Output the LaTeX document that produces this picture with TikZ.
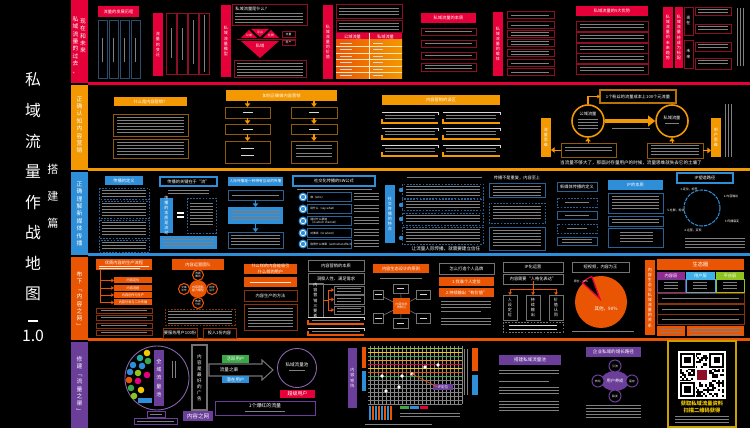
\documentclass[tikz,border=0pt]{standalone}
\usepackage{fontspec}
\setmainfont{Noto Sans CJK SC}
\usepackage{xcolor}
\usepackage{tikz}
\usetikzlibrary{positioning, calc, arrows.meta, shapes.geometric}

\XeTeXlinebreaklocale "zh"
\XeTeXlinebreakskip=0pt plus 1pt

\definecolor{pvred}{HTML}{E5003A}
\definecolor{pvdred}{HTML}{8C0F26}
\definecolor{pvorange}{HTML}{F39800}
\definecolor{pvdorange}{HTML}{8F5B0A}
\definecolor{pvblue}{HTML}{2E8FD8}
\definecolor{pvdblue}{HTML}{2A6296}
\definecolor{pvflame}{HTML}{EA5504}
\definecolor{pvdflame}{HTML}{8A3308}
\definecolor{pvpurple}{HTML}{6B3E99}
\definecolor{pvgreen}{HTML}{3AA845}
\definecolor{pvsky}{HTML}{3FB0E6}
\definecolor{pvgold}{HTML}{C9A000}
\definecolor{pvyellow}{HTML}{F2C800}
\definecolor{pvnavy}{HTML}{2C4C6E}
\definecolor{pvteal}{HTML}{21B1A4}
\definecolor{pvmag}{HTML}{E4007F}
\definecolor{pvlime}{HTML}{8FC31F}

\tikzset{
  txt/.style={white!50!black, line width=0.35pt},
  wtxt/.style={white!85!black, line width=0.4pt},
  hdr/.style={text=white, inner sep=0, align=center, font=\fontsize{2.4}{3}\selectfont},
  vlab/.style={text=white, align=center, inner sep=0, text width=3.4pt, font=\fontsize{3.3}{4.2}\selectfont},
  vsmall/.style={text=white, align=center, inner sep=0, text width=2.4pt, font=\fontsize{2.3}{2.9}\selectfont},
  rbox/.style={draw=pvdred, line width=0.5pt},
  obox/.style={draw=pvdorange, line width=0.5pt},
  bbox/.style={draw=pvdblue, line width=0.5pt},
  bdash/.style={draw=pvdblue, line width=0.5pt, dash pattern=on 1pt off 0.8pt},
  fbox/.style={draw=pvdflame, line width=0.5pt},
  gbox/.style={draw=white!45!black, line width=0.5pt},
  pbox/.style={draw=pvpurple, line width=0.5pt},
  bx/.style 2 args={minimum width=#1*0.02cm, minimum height=#2*0.02cm, inner sep=0, outer sep=0},
  oarr/.style={pvorange, line width=0.9pt, -{Triangle[length=2pt, width=3pt]}},
  barr/.style={pvblue, line width=0.9pt, -{Triangle[length=2pt, width=3pt]}},
  farr/.style={pvflame, line width=0.5pt, -{Triangle[length=1.5pt, width=2pt]}},
  skill/.style={circle, draw=pvflame, line width=0.6pt, fill=black, minimum size=11*0.02cm, inner sep=0, text=white, font=\fontsize{1.5}{1.8}\selectfont, align=center},
  step4/.style={circle, draw=pvpurple, line width=0.6pt, fill=black, minimum size=12*0.02cm, inner sep=0, text=white, font=\fontsize{1.6}{2}\selectfont},
}

% rows of small print
\newcommand{\txtlines}[4]{\foreach \k in {1,...,#4}{\draw[txt] (#1,{#2+3*(\k-1)}) -- ++(#3,0);}}
% open box: light top edge, coloured foot
\newcommand{\brk}[5]{\draw[white!85!black, line width=0.5pt] (#1,#2) -- (#3,#2) -- (#3,#2+3);
  \draw[#5, line width=0.9pt] (#1,#4-4) -- (#1,#4) -- (#3,#4);}

\begin{document}
\begin{tikzpicture}[x=0.02cm, y=-0.02cm]
  \useasboundingbox (0,0) rectangle (750,428);
  \fill[black] (0,0) rectangle (750,428);

  % Title
  \node[text=white, align=center, inner sep=0, text width=9.5pt,
        font=\fontsize{9}{17.4}\selectfont] (title) at (33,187)
        {私\\域\\流\\量\\作\\战\\地\\图};
  \draw[white, line width=0.6pt] (28,321) -- (38,321);
  \node[text=white, inner sep=0, font=\fontsize{9}{10}\selectfont] (version) at (33,336) {1.0};
  \node[text=white, align=center, inner sep=0, text width=6.8pt,
        font=\fontsize{6.3}{15.4}\selectfont] (part) at (53,196) {搭\\建\\篇};

  % ===== Row 1: past, present and future =====
  \fill[pvred] (71,0) rectangle (88,83);
  \fill[pvred] (88,82) rectangle (750,85);
  \node[vlab] (lab1a) at (75.5,45) {私\\域\\流\\量\\的\\过\\去\\、};
  \node[vlab] (lab1b) at (83,36) {现\\在\\和\\未\\来};

  % history
  \fill[pvred] (98,6) rectangle node[hdr] (hist) {流量的发展历程} (139,17);
  \foreach \x in {98,109,120,131} {
    \draw[pvnavy, line width=0.5pt] (\x,20) rectangle (\x+9,78);
    \draw[txt] (\x+4.5,38) -- (\x+4.5,62);
  }
  \fill[pvred] (153,13) rectangle node[vsmall] (trend) {流量的变迁} (163,76);
  \foreach \x/\a/\b in {166/28/58, 177/28/60, 188/20/64, 199/15/72} {
    \draw[rbox] (\x,13) rectangle (\x+10,74);
    \draw[txt] (\x+5,\a) -- (\x+5,\b);
  }

  % what is it
  \fill[pvred] (221,5) rectangle node[vsmall] (model) {私域流量模型} (231,77);
  \draw[rbox] (232,4) rectangle (307,25);
  \node[hdr, anchor=west] (whatis) at (235,8.5) {私域流量是什么？};
  \txtlines{235}{13}{68}{4}
  \fill[pvred] (241,38) -- (249,30) -- (257,38) -- cycle;
  \fill[pvred] (251,29) -- (269,29) -- (260,37) -- cycle;
  \fill[pvred] (263,38) -- (271,30) -- (279,38) -- cycle;
  \draw[pvdred, line width=0.9pt] (237,39.5) -- (296,39.5);
  \fill[pvred] (241,41) -- (279,41) -- (260,58) -- cycle;
  \node[hdr, font=\fontsize{1.6}{2}\selectfont] (gemL) at (249,35.5) {公域};
  \node[hdr, font=\fontsize{1.6}{2}\selectfont] (gemM) at (260,32) {平台};
  \node[hdr, font=\fontsize{1.6}{2}\selectfont] (gemR) at (271,35.5) {社群};
  \node[hdr] (gemB) at (260,46) {私域};
  \draw[rbox] (282,31) rectangle node[hdr, font=\fontsize{1.6}{2}\selectfont] (side1) {流量} (295,37);
  \draw[rbox] (282,40) rectangle node[hdr, font=\fontsize{1.6}{2}\selectfont] (side2) {用户} (295,45);
  \draw[rbox] (234,60) rectangle (306,77);
  \txtlines{237}{63}{66}{5}

  % value and table
  \fill[pvred] (323,5) rectangle node[vsmall] (worth) {私域流量的价值} (333,79);
  \draw[rbox] (336,4) rectangle (402,18);
  \txtlines{339}{8}{60}{3}
  \draw[rbox] (336,20) rectangle (402,32);
  \txtlines{339}{23}{60}{3}
  \fill[pvred] (336,33) rectangle (402,40);
  \node[hdr] (th1) at (352.5,36.5) {公域流量};
  \node[hdr] (th2) at (385.5,36.5) {私域流量};
  \foreach \r in {0,...,5} {
    \shade[left color=pvflame, right color=pvorange] (336,{40+6.5*\r}) rectangle (402,{46.5+6.5*\r});
    \draw[wtxt] (340,{43.25+6.5*\r}) -- ++(12,0);
    \draw[wtxt] (373,{43.25+6.5*\r}) -- ++(10,0);
  }
  \foreach \r in {1,...,5}
    \draw[white!75!pvorange, line width=0.3pt] (336,{40+6.5*\r}) -- (402,{40+6.5*\r});
  \draw[white!75!pvorange, line width=0.3pt] (369,33) -- (369,79);

  % essence
  \fill[pvred] (421,13) rectangle node[hdr] (essence) {私域流量的本质} (476,23);
  \foreach \y in {28,40,52} {
    \draw[rbox] (421,\y) rectangle (476,\y+7);
    \draw[txt] (425,\y+3.5) -- (472,\y+3.5);
  }
  \draw[rbox] (421,63) rectangle (476,71);
  \txtlines{425}{65.5}{47}{2}

  % carriers
  \fill[pvred] (493,12) rectangle node[vsmall] (carrier) {私域流量的载体} (503,76);
  \foreach \y/\n in {11/1,21/1,30/2,39/2,49/2,59/1,68/1} {
    \draw[rbox] (507,\y) rectangle (554,\y+7.5);
    \txtlines{511}{\y+2.5+(2-\n)*1.5}{38}{\n}
  }

  % advantages
  \fill[pvred] (576,6) rectangle node[hdr] (adv) {私域流量的5大优势} (648,16);
  \foreach \y in {21,32,43,53,64} {
    \draw[rbox] (576,\y) rectangle (648,\y+10);
    \txtlines{580}{\y+3.5}{64}{2}
  }

  % future
  \fill[pvred] (663,7) rectangle node[vsmall] (fut1) {私域流量的未来趋势} (673,68);
  \fill[pvred] (675,7) rectangle node[vsmall] (fut2) {私域流量将成为标配} (683,68);
  \draw[rbox] (684,7) rectangle node[vsmall] (now) {现在} (693,35);
  \draw[rbox] (684,40) rectangle node[vsmall] (later) {未来} (693,68);
  \foreach \y/\h in {7/8,24/9,42/9,58/11} {
    \draw[rbox] (695,\y) rectangle (731,\y+\h);
    \txtlines{698}{\y+2.5}{30}{2}
  }
  \foreach \x in {737,740,743} \draw[txt] (\x,8) -- (\x,66);

  % ===== Row 2: content marketing =====
  \fill[pvorange] (71,85) rectangle (88,170);
  \fill[pvorange] (88,168) rectangle (750,171);
  \node[vlab] (lab2) at (79.5,125) {正\\确\\认\\知\\内\\容\\营\\销};

  \fill[pvorange] (114,97) rectangle node[hdr] (cm) {什么是内容营销？} (187,106);
  \draw[obox] (113,114) rectangle (188,136);
  \txtlines{117}{117}{67}{6}
  \draw[obox] (113,139) rectangle (188,158);
  \txtlines{117}{142}{67}{5}

  % how to do it
  \node[bx={111}{11}, fill=pvorange, hdr] (how) at (281.5,95.5) {如何正确做内容营销};
  \node[bx={45}{11}, obox] (f11) at (247.5,112.5) {};
  \node[bx={46}{11}, obox] (f12) at (314,112.5) {};
  \node[bx={45}{10}, obox] (f21) at (247.5,129) {};
  \node[bx={46}{10}, obox] (f22) at (314,129) {};
  \node[bx={45}{22}, obox] (f31) at (247.5,152) {};
  \node[bx={46}{22}, obox] (f32) at (314,152) {};
  \foreach \a/\b in {how/f11, how/f12, f11/f21, f12/f22, f21/f31, f22/f32}
    \draw[oarr] (\a.south -| \b) -- (\b);
  \foreach \n in {f11,f12,f21,f22} \draw[wtxt] ($(\n)-(5,0)$) -- ($(\n)+(5,0)$);
  \draw[wtxt] (241,148) -- (254,148);
  \draw[wtxt] (241,155) -- (254,155);
  \txtlines{296}{145}{36}{2}
  \txtlines{296}{153}{36}{2}

  % pitfalls
  \fill[pvorange] (382,95) rectangle node[hdr] (myth) {内容营销的误区} (500,105);
  \foreach \y in {112,128,145} {
    \brk{382}{\y}{438}{\y+11}{pvorange}
    \txtlines{385}{\y+3.5}{50}{2}
    \brk{443}{\y}{500}{\y+11}{pvorange}
    \txtlines{446}{\y+3.5}{50}{2}
  }

  % from traffic to users
  \node[circle, draw=pvorange, line width=0.9pt, minimum size=32*0.02cm, inner sep=0] (pool) at (588,121) {};
  \node[hdr] (poolt) at (588,114) {公域流量};
  \txtlines{578}{119}{20}{4}
  \node[circle, draw=pvorange, line width=0.9pt, minimum size=32*0.02cm, inner sep=0] (priv) at (672,121) {};
  \node[hdr] (privt) at (672,118) {私域流量};
  \draw[txt] (665,123) -- (679,123);
  \draw[pvorange, line width=2pt, -{Triangle[length=4pt, width=6pt]}] (pool) -- (priv);
  \draw[txt] (612,128) -- (650,128);
  \node[bx={76}{13}, draw=pvdorange!60!pvorange, line width=0.6pt, hdr] (cost) at (638,96.5) {1个粉丝的流量成本上100个元流量};
  \draw[pvorange, line width=0.6pt, -{Triangle[length=1.5pt, width=2pt]}] (pool.north) |- (cost.west);
  \node[bx={10}{39}, fill=pvorange, vsmall] (tflow) at (546,137.5) {流量思维};
  \node[bx={10}{39}, fill=pvorange, vsmall] (tuser) at (716,137.5) {用户思维};
  \node[bx={55}{14}, obox] (low) at (588.5,150) {};
  \txtlines{565}{147}{47}{2}
  \node[bx={56}{15}, obox] (high) at (675,150.5) {};
  \txtlines{651}{145.5}{48}{4}
  \draw[oarr, line width=0.5pt] (low.west) -- (low.west -| tflow.east);
  \draw[oarr, line width=0.5pt] (high.east) -- (high.east -| tuser.west);
  \draw[oarr, line width=0.5pt] (low.north -| pool) -- (pool);
  \draw[oarr, line width=0.5pt] (high.north -| priv) -- (priv);
  \foreach \x in {725,728,731} \draw[txt] (\x,104) -- (\x,157);
  \node[text=white, inner sep=0, font=\fontsize{2.6}{3}\selectfont] (soil) at (631,163)
    {当流量不够大了，那面对存量用户的时候，流量思维就失去它的土壤了};

  % ===== Row 3: new media =====
  \fill[pvblue] (71,172) rectangle (88,255);
  \fill[pvblue] (88,253) rectangle (750,256);
  \node[vlab] (lab3) at (79.5,214) {正\\确\\理\\解\\新\\媒\\体\\传\\播};

  \fill[pvblue] (105,176) rectangle node[hdr] (defn) {传播的定义} (143,185);
  \foreach \y/\h/\n in {188/11/3, 201/17/5, 220/18/5, 240/12/3} {
    \draw[bdash] (99,\y) rectangle (149,\y+\h);
    \txtlines{102}{\y+2.5}{44}{\n}
  }

  \draw[pvblue, line width=0.6pt] (160,177) rectangle node[hdr] (key) {传播的关键在于“流”} (217,186);
  \txtlines{168}{190}{41}{2}
  \fill[pvblue] (160,198) rectangle node[vsmall] (flow) {传播的本质是流动} (173,233);
  \draw[white, line width=1pt] (177,213) -- (184,213) (177,217) -- (184,217);
  \draw[bdash] (187,198) rectangle (216,233);
  \txtlines{190}{203}{23}{8}
  \fill[pvblue] (160,236) rectangle (217,249);
  \txtlines{163}{239}{51}{3}

  % interpersonal
  \node[bx={55}{9}, fill=pvblue, hdr, font=\fontsize{2.1}{2.5}\selectfont] (inter) at (255.5,181.5) {人际传播是一种带有互动的传播};
  \node[bx={55}{10}, bbox] (i1) at (255.5,195) {};
  \node[bx={55}{17}, fill=pvblue] (i2) at (255.5,215.5) {};
  \node[bx={55}{16}, bbox] (i3) at (255.5,240) {};
  \draw[barr] (i1) -- (i2);
  \draw[barr] (i2) -- (i3);
  \txtlines{232}{195}{47}{1}
  \txtlines{231}{210}{49}{4}
  \txtlines{231}{235}{49}{4}

  % 5W
  \draw[pvblue, line width=0.6pt] (293,176) rectangle node[hdr] (fivew) {社交化传播的5W公式} (375,186);
  \draw[txt] (297,189.5) -- (372,189.5);
  \foreach \y/\t in {197/谁（who）, 209/说什么（say what）, 221/通过什么渠道\\（in which channel）, 233/对谁说（to whom）, 244/取得什么效果（with what effect）} {
    \draw[bbox] (307,\y-4.5) rectangle (351,\y+4.5);
    \node[hdr, anchor=west, align=left, font=\fontsize{1.6}{2}\selectfont] (w\y) at (310,\y) {\t};
    \fill[pvblue] (303,\y) circle[radius=4.5];
    \draw[white, line width=0.4pt] (303,\y) circle[radius=2.7];
    \txtlines{354}{\y-4}{25}{3}
  }

  \fill[pvblue] (385,185) rectangle node[vsmall] (feature) {社交传播的特点} (395,243);
  \draw[txt] (407,177) -- (482,177);
  \foreach \y/\h/\n/\c in {184/14/4/190, 199/11/3/205, 213/12/3/219, 227/17/5/238} {
    \draw[bdash] (402,\y) rectangle (483,\y+\h);
    \txtlines{406}{\y+2.5}{74}{\n}
    \fill[pvblue] (401,\c) circle[radius=2.2];
  }
  \node[text=white, inner sep=0, font=\fontsize{2.6}{3}\selectfont] (trust) at (446,249) {让流量人际传播，就需要建立信任};

  \node[text=white, inner sep=0, font=\fontsize{2.4}{3}\selectfont] (norep) at (517,178) {传播不是重复，内容至上};
  \draw[bbox] (489,183) rectangle (545,197);
  \txtlines{493}{186}{48}{4}
  \draw[bdash] (489,203) rectangle (545,223);
  \txtlines{493}{206}{48}{5}
  \draw[bbox] (489,227) rectangle (545,250);
  \txtlines{493}{230}{48}{6}

  \foreach \y/\h/\s in {182/9/bbox, 198/9/bdash, 211/8/bbox, 224/9/bdash, 237/8/bbox}
    \draw[\s] (557,\y) rectangle (597,\y+\h);
  \node[hdr] (nmdef) at (577,186.5) {新媒体传播的定义};
  \draw[txt] (565,202.5) -- (589,202.5);
  \draw[txt] (565,215) -- (589,215);
  \draw[txt] (567,228.5) -- (587,228.5);
  \txtlines{562}{239.5}{30}{2}

  % IP
  \fill[pvblue] (608,180) rectangle node[hdr] (ipcore) {IP的本质} (663,190);
  \draw[bbox] (608,193) rectangle (663,213);
  \txtlines{612}{196}{47}{5}
  \draw[bbox] (608,216) rectangle (663,226);
  \txtlines{612}{219}{47}{2}
  \draw[bbox] (608,228) rectangle (663,247);
  \txtlines{620}{232}{33}{4}

  \draw[pvblue, line width=0.6pt] (677,173) rectangle node[hdr] (ippath) {IP塑造路径} (733,183);
  \draw[pvblue, line width=0.6pt, dash pattern=on 2pt off 0.6pt] (702,208) circle[radius=18];
  \node[hdr, font=\fontsize{1.7}{2}\selectfont] (p1) at (689,189) {1.定位，标签};
  \node[hdr, font=\fontsize{1.7}{2}\selectfont] (p2) at (731,196) {2.内容输出};
  \node[hdr, font=\fontsize{1.7}{2}\selectfont] (p3) at (732,221) {3.传播裂变};
  \node[hdr, font=\fontsize{1.7}{2}\selectfont] (p4) at (693,230) {4.运营，变现};
  \node[hdr, font=\fontsize{1.7}{2}\selectfont] (p5) at (676,210) {5.社群，粉丝};
  \txtlines{685}{238}{60}{4}

  % ===== Row 4: content web =====
  \fill[pvflame] (71,257) rectangle (88,340);
  \fill[pvflame] (88,338) rectangle (750,341);
  \node[vlab] (lab4) at (79.5,300) {布\\下\\﹁\\内\\容\\之\\网\\﹂};

  \fill[pvflame] (96,259) rectangle (152,270);
  \node[hdr] (prod) at (124,262.5) {优质内容的生产流程};
  \draw[white!85!pvflame, line width=0.3pt] (99,266) -- (149,266) (99,268.3) -- (140,268.3);
  \coordinate (trunk) at (100,270);
  \foreach \i/\y/\t in {1/280.5/内容定位, 2/288/内容选题, 3/295/内容创作与生产, 4/302.5/内容分发与二次传播} {
    \node[bx={38}{6}, fill=pvflame, hdr, font=\fontsize{1.8}{2}\selectfont] (s\i) at (133,\y) {\t};
    \draw[farr] (trunk |- s\i.west) -- (s\i.west);
  }
  \draw[pvflame, line width=0.5pt] (trunk) -- (trunk |- s4.west);
  \foreach \y in {308,315,323,330} {
    \draw[fbox] (96,\y) rectangle (152,\y+5.5);
    \draw[txt] (101,\y+2.75) -- (147,\y+2.75);
  }

  % team
  \fill[pvflame] (172,259) rectangle node[hdr] (team) {内容运营团队} (224,270);
  \node[circle, fill=pvflame, minimum size=18*0.02cm, inner sep=0, hdr, font=\fontsize{1.7}{2.1}\selectfont] (core4) at (198,289) {内容团队\\能力模型};
  \node[skill] (ska) at (198,275) {选题\\策划};
  \node[skill] (skb) at (184,289) {文案\\写作};
  \node[skill] (skc) at (212,289) {视觉\\设计};
  \node[skill] (skd) at (198,303) {数据\\分析};
  \draw[fbox, dash pattern=on 1pt off 0.8pt] (165,309) rectangle (235,325);
  \txtlines{168}{311.5}{64}{5}
  \draw[fbox] (163,328) rectangle node[hdr] (serve) {要服务用户100份} (197,338);
  \draw[fbox] (203,328) rectangle node[hdr] (input) {投入1份内容} (236,338);

  % users
  \fill[pvflame] (244,264) rectangle node[hdr] (attract) {什么样的内容能吸引\\什么样的用户} (297,274);
  \fill[pvflame] (244,277) rectangle (297,287);
  \draw[white!85!pvflame, line width=0.4pt] (250,282) -- (291,282);
  \draw[fbox] (244,290) rectangle node[hdr] (method) {内容生产的方法} (297,301);
  \draw[fbox] (244,304) rectangle (297,330);
  \txtlines{248}{308}{45}{7}

  % essence
  \draw[gbox] (308,260) rectangle node[hdr] (cmcore) {内容营销的本质} (364,271);
  \draw[gbox] (308,273) rectangle node[hdr] (insight) {洞察人性、满足需求} (364,284);
  \node[bx={15}{31}, gbox, vsmall] (three) at (315.5,300.5) {内容营销三要素};
  \node[bx={30}{8}, gbox] (e1) at (349,290) {};
  \node[bx={30}{9}, gbox] (e2) at (349,299.5) {};
  \node[bx={30}{8}, gbox] (e3) at (349,310) {};
  \draw[txt] (337,288.5) -- (361,288.5) (337,291.5) -- (361,291.5);
  \draw[txt] (337,298) -- (361,298) (337,301) -- (361,301);
  \draw[txt] (337,308.5) -- (361,308.5) (337,311.5) -- (361,311.5);
  \coordinate (fork) at (328,300.5);
  \draw[pvflame, line width=0.5pt] (three.east) -- (fork);
  \draw[pvflame, line width=0.5pt] (fork |- e1) -- (fork |- e3);
  \foreach \n in {e1,e2,e3} \draw[farr] (fork |- \n.west) -- (\n.west);
  \brk{308}{317}{364}{324}{pvflame}
  \txtlines{312}{320}{48}{1}
  \brk{308}{328}{364}{335}{pvflame}
  \txtlines{312}{331}{48}{1}

  % ecosystem design
  \fill[pvflame] (373,264) rectangle node[hdr] (eco) {内容生态设计的原则} (429,273);
  \draw[txt] (380,278) -- (422,278);
  \node[bx={17}{16}, fill=pvflame, hdr, font=\fontsize{1.7}{2.1}\selectfont] (hub) at (401.5,306) {内容生态\\的核心};
  \node[bx={15}{9}, gbox] (n1) at (400.5,288.5) {};
  \node[bx={15}{10}, gbox] (n2) at (400.5,323) {};
  \node[bx={10}{9}, gbox] (n3) at (378,294.5) {};
  \node[bx={10}{10}, gbox] (n4) at (378,318) {};
  \node[bx={14}{9}, gbox] (n5) at (423,294.5) {};
  \node[bx={14}{10}, gbox] (n6) at (423,318) {};
  \foreach \n in {n1,n2,n3,n4,n5,n6} {
    \draw[white!50!black, line width=0.3pt] (hub) -- (\n);
    \draw[wtxt, line width=0.35pt] ($(\n)-(3.5,0)$) -- ($(\n)+(3.5,0)$);
  }

  % personal brand
  \draw[gbox] (439,263) rectangle node[hdr] (brand) {怎么打造个人品牌} (494,274);
  \fill[pvflame] (439,277) rectangle node[hdr] (br1) {1.找准个人定位} (494,286);
  \fill[pvflame] (439,288) rectangle node[hdr] (br2) {2.持续输出“有价值”} (494,297);
  \txtlines{441}{301}{50}{3}
  \txtlines{441}{311}{40}{1}
  \txtlines{441}{318}{50}{3}

  % persona
  \draw[gbox] (503,262) rectangle node[hdr] (iplab) {IP化运营} (563,272);
  \draw[gbox] (503,274) rectangle node[hdr] (iphum) {内容需要“人格化表达”} (563,284);
  \node[bx={14}{25}, gbox, vsmall] (ip1) at (510,307.5) {人设定位};
  \node[bx={14}{25}, gbox, vsmall] (ip2) at (533,307.5) {持续输出};
  \node[bx={14}{25}, gbox, vsmall] (ip3) at (556,307.5) {价值认同};
  \coordinate (ipfork) at (533,289);
  \draw[pvflame, line width=0.5pt] (iphum) -- (ipfork);
  \draw[pvflame, line width=0.5pt] (ip1 |- ipfork) -- (ip3 |- ipfork);
  \foreach \n in {ip1,ip2,ip3} \draw[farr] (\n |- ipfork) -- (\n);
  \draw[gbox, dash pattern=on 1pt off 0.8pt] (503,322) rectangle (563,332);
  \draw[wtxt, line width=0.4pt] (509,325) -- (557,325) (509,329) -- (557,329);

  % pie
  \draw[gbox] (572,262) rectangle node[hdr] (video) {短视频，内容为王} (629,272);
  \fill[pvflame] (601,302) circle[radius=26];
  \filldraw[fill=black, draw=pvred, line width=0.7pt] (600,299) -- ++(-110:24)
    arc[start angle=-110, end angle=-137, radius=24] -- cycle;
  \node[hdr, font=\fontsize{2.6}{3}\selectfont] (rest) at (606,309) {其他，90\%};
  \node[hdr, font=\fontsize{1.6}{2}\selectfont] (orig) at (581,281) {原创，10\%};
  \draw[txt] (572,331) -- (634,331);

  % ecosystem table
  \fill[pvflame] (645,260) rectangle node[vsmall] (ecov) {内容生态与私域流量的关系} (655,335);
  \fill[pvflame] (657,259) rectangle node[hdr, font=\fontsize{3}{3.6}\selectfont] (ecohd) {生态圈} (744,270);
  \fill[pvpurple!70!pvmag] (657,272) rectangle node[hdr] (ca) {内容层} (685,279);
  \fill[pvsky] (686,272) rectangle node[hdr] (cb) {用户层} (715,279);
  \fill[pvlime] (716,272) rectangle node[hdr] (cc) {平台层} (744,279);
  \draw[pvpurple, line width=0.4pt] (657,279) rectangle (685,292);
  \draw[pvsky, line width=0.4pt] (686,279) rectangle (715,292);
  \draw[pvlime, line width=0.4pt] (716,279) rectangle (744,292);
  \foreach \x in {664,693,723} \txtlines{\x}{282}{14}{3}
  \foreach \y in {293,304,314} {
    \draw[fbox] (657,\y) rectangle (744,\y+10);
    \draw[txt] (662,\y+5) -- (739,\y+5);
  }
  \fill[pvflame] (657,326) rectangle (685,336);
  \txtlines{660}{329}{22}{2}
  \fill[pvflame] (687,326) rectangle (744,336);
  \txtlines{690}{328.5}{51}{3}

  % ===== Row 5: traffic channel =====
  \fill[pvpurple] (71,342) rectangle (88,428);
  \node[vlab] (lab5) at (79.5,385) {修\\建\\﹁\\流\\量\\之\\渠\\﹂};

  \node[circle, draw=pvpurple!80!white, line width=0.5pt, minimum size=64*0.02cm, inner sep=0] (allpool) at (157,378) {};
  \foreach \x/\y/\c in {147/353/pvyellow, 140/358/pvteal, 148/361/pvgreen, 133/365/pvblue,
      142/366/pvblue, 130/372/pvblue, 138/373/pvlime, 147/375/pvmag, 129/380/pvflame,
      138/381/pvmag, 131/388/pvgreen, 141/390/pvyellow, 134/396/pvlime}
    \fill[\c] (\x,\y) circle[radius=3.3];
  \fill[pvpurple] (154,350) rectangle node[vlab, font=\fontsize{2.9}{4.6}\selectfont] (allv) {全域流量池} (164,406);
  \foreach \x in {172,175} \draw[txt] (\x,361) -- (\x,378);
  \fill[pvblue] (138,398) rectangle (152,403);
  \draw[pbox] (147,411) rectangle (165,417);
  \draw[txt] (150,414) -- (162,414);
  \draw[pbox] (134,418) rectangle (177,424);
  \draw[txt] (137,421) -- (174,421);

  \draw[white!45!black, line width=0.6pt] (192,345) rectangle
    node[vlab, text width=2.8pt, font=\fontsize{2.6}{3.4}\selectfont] (ad) {内\\容\\是\\最\\好\\的\\广\\告} (207,410);
  \fill[pvpurple] (183,411) rectangle node[hdr, font=\fontsize{3.2}{4}\selectfont] (netlab) {内容之网} (213,421);

  \draw[white!45!black, line width=0.6pt] (209,364) -- (262,364) -- (262,360) -- (273,370)
    -- (262,380) -- (262,376) -- (209,376) -- cycle;
  \node[hdr, font=\fontsize{2.6}{3}\selectfont] (chan) at (229,370) {流量之渠};
  \fill[pvgreen] (222,355) rectangle node[hdr, font=\fontsize{2.5}{3}\selectfont] (act) {活跃用户} (249,363);
  \fill[pvblue] (222,376) rectangle node[hdr, font=\fontsize{2.5}{3}\selectfont] (pot) {潜在用户} (249,383);
  \node[circle, draw=pvpurple!80!white, line width=0.5pt, minimum size=39*0.02cm, inner sep=0] (privpool) at (297,368) {};
  \node[hdr, font=\fontsize{2.6}{3}\selectfont] (pplab) at (297,364.5) {私域流量池};
  \draw[txt, line width=0.3pt] (289,370) -- (305,370);
  \fill[pvred] (280,390) rectangle node[hdr, font=\fontsize{2.8}{3}\selectfont] (super) {超级用户} (315,398);
  \draw[pbox] (215,401) rectangle (315,415);
  \node[hdr, font=\fontsize{2.8}{3}\selectfont] (hot) at (265,406) {1个爆红的流量};
  \draw[txt, line width=0.3pt] (245,411) -- (285,411);

  % matrix grid
  \fill[pvpurple] (348,348) rectangle node[vsmall] (matrix) {内容矩阵} (357,408);
  \fill[pvflame] (362,347) rectangle (366,368);
  \fill[pvblue] (362,371) rectangle (366,391);
  \foreach \x in {370,374,...,462} \draw[white!55!black, line width=0.2pt] (\x,346) -- (\x,404);
  \foreach \y/\c in {348/pvlime, 352/pvyellow, 356/pvgreen, 360/pvorange, 364/pvred,
      368/pvyellow, 372/pvflame, 376/pvgreen, 380/white!50!black, 384/white!50!black,
      388/white!50!black, 392/white!50!black, 396/white!50!black, 400/white!50!black, 404/white!50!black}
    \draw[\c, line width=0.3pt] (368,\y) -- (462,\y);
  \foreach \x/\y in {382/376, 386/391, 399/387, 402/376, 412/374, 425/367, 438/365}
    \fill[white] (\x,\y) circle[radius=1.8];
  \fill[pvpurple] (433,384) rectangle node[hdr, font=\fontsize{2}{2.4}\selectfont] (ipdot) {IP定位} (453,390);
  \draw[pvflame, line width=0.4pt] (412,374) -- (ipdot.west);
  \foreach \x/\c in {369/pvblue, 372/pvflame, 375/pvblue, 378/pvflame, 381/pvblue, 384/pvflame, 387/pvblue, 390/pvflame}
    \fill[\c] (\x,406) rectangle ++(2,14);
  \fill[pvgreen] (400,406) rectangle (409,409);
  \fill[pvblue] (410,406) rectangle (419,409);
  \fill[pvred] (420,406) rectangle (428,409);
  \txtlines{400}{413}{60}{2}
  \draw[txt] (365,424) -- (432,424);
  \foreach \x in {464,467} \draw[txt] (\x,349) -- (\x,395);
  \fill[pvflame] (472,348) rectangle (478,371);
  \fill[pvblue] (472,375) rectangle (478,395);

  % build the pool
  \fill[pvpurple] (499,355) rectangle node[hdr, font=\fontsize{2.6}{3}\selectfont] (build) {搭建私域流量池} (561,365);
  \txtlines{499}{370}{60}{2}
  \txtlines{499}{381}{50}{1}
  \txtlines{499}{387}{60}{3}
  \txtlines{499}{401}{60}{4}

  % enterprise loop
  \fill[pvpurple] (586,347) rectangle node[hdr, font=\fontsize{2.6}{3}\selectfont] (ent) {企业私域的增长路径} (641,357);
  \node[ellipse, fill=pvpurple, minimum width=28*0.02cm, minimum height=20*0.02cm, inner sep=0, hdr] (grow) at (615,381) {用户养成};
  \node[step4] (ea) at (615,366) {引流};
  \node[step4] (eb) at (598,381) {转化};
  \node[step4] (ec) at (632,381) {留存};
  \node[step4] (ed) at (615,396) {裂变};
  \txtlines{586}{405}{55}{5}

  % QR card
  \draw[pvgold, line width=1pt] (668,341) rectangle (736,427);
  \fill[white] (678,351) rectangle (726,399);
  \pgfmathsetseed{7}
  \foreach \i in {0,...,20} \foreach \j in {0,...,20} {
    \pgfmathtruncatemacro\bit{2*rnd}
    \ifnum\bit=1 \fill[black] ({680+2.1*\i},{353+2.1*\j}) rectangle ++(2.1,2.1); \fi
  }
  \foreach \fx/\fy in {680/353, 709.3/353, 680/382.3} {
    \fill[white] (\fx-1,\fy-1) rectangle ++(16.7,16.7);
    \fill[black] (\fx,\fy) rectangle ++(14.7,14.7);
    \fill[white] (\fx+2.1,\fy+2.1) rectangle ++(10.5,10.5);
    \fill[black] (\fx+4.2,\fy+4.2) rectangle ++(6.3,6.3);
  }
  \fill[white] (695,368) rectangle (709,382);
  \fill[pvdred] (697,370) rectangle (707,380);
  \node[text=pvyellow, inner sep=0, font=\fontsize{3}{3.5}\selectfont\bfseries] (qr1) at (702,403) {获取私域流量资料};
  \node[text=pvyellow, inner sep=0, font=\fontsize{3}{3.5}\selectfont\bfseries] (qr2) at (702,410) {扫描二维码获得};
  \txtlines{675}{416}{54}{3}
\end{tikzpicture}
\end{document}
